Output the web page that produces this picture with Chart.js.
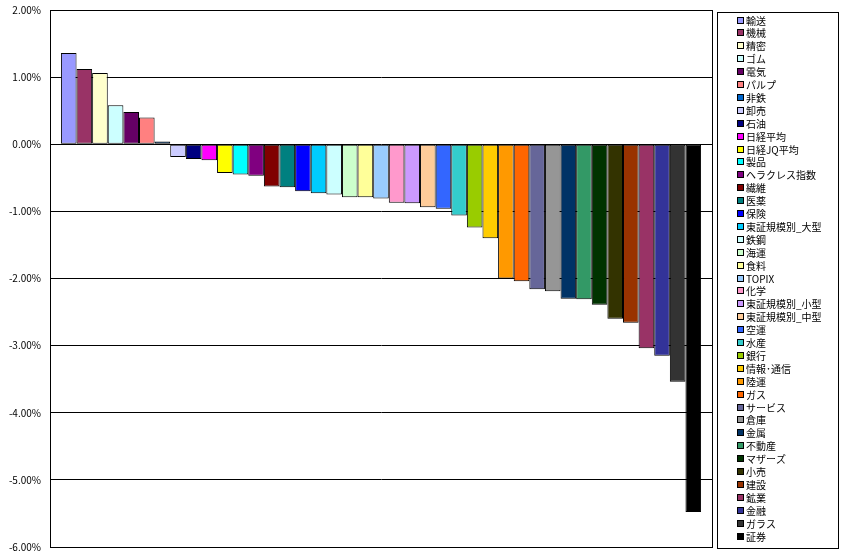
<!DOCTYPE html>
<html>
<head>
<meta charset="utf-8">
<script src="https://cdn.jsdelivr.net/npm/chart.js@4/dist/chart.umd.min.js"></script>
<style>
  body { margin: 0; background: #fff; }
  #wrap { width: 850px; height: 556px; }
</style>
</head>
<body>
<div id="wrap"><canvas id="sectorChart" width="850" height="556"></canvas></div>
<script>
// 業種別騰落率
const categories = [
    '輸送', '機械', '精密', 'ゴム', '電気', 'パルプ', '非鉄', '卸売', '石油', '日経平均',
    '日経JQ平均', '製品', 'ヘラクレス指数', '繊維', '医薬', '保険', '東証規模別_大型', '鉄鋼', '海運', '食料',
    'TOPIX', '化学', '東証規模別_小型', '東証規模別_中型', '空運', '水産', '銀行', '情報･通信', '陸運', 'ガス',
    'サービス', '倉庫', '金属', '不動産', 'マザーズ', '小売', '建設', '鉱業', '金融', 'ガラス',
    '証券'
];
const values = [
    1.36, 1.12, 1.06, 0.58, 0.48, 0.40, 0.04, -0.19, -0.22, -0.24,
    -0.43, -0.45, -0.47, -0.63, -0.64, -0.70, -0.73, -0.75, -0.79, -0.79,
    -0.81, -0.87, -0.88, -0.94, -0.96, -1.06, -1.24, -1.40, -2.00, -2.04,
    -2.16, -2.19, -2.30, -2.31, -2.39, -2.60, -2.66, -3.04, -3.15, -3.54,
    -5.48
];
const colors = [
    '#9999FF', '#993366', '#FFFFCC', '#CCFFFF', '#660066', '#FF8080', '#0066CC', '#CCCCFF', '#000080', '#FF00FF',
    '#FFFF00', '#00FFFF', '#800080', '#800000', '#008080', '#0000FF', '#00CCFF', '#CCFFFF', '#CCFFCC', '#FFFF99',
    '#99CCFF', '#FF99CC', '#CC99FF', '#FFCC99', '#3366FF', '#33CCCC', '#99CC00', '#FFCC00', '#FF9900', '#FF6600',
    '#666699', '#969696', '#003366', '#339966', '#003300', '#333300', '#993300', '#993366', '#333399', '#333333',
    '#000000'
];
const yMin = -6;
const yMax = 2;
const yStep = 1;

const jpFont = '"Noto Sans CJK JP", "MS PGothic", sans-serif';

// 枠線と凡例を描くプラグイン
const frameLegend = {
    id: 'frameLegend',
    afterDraw(chart) {
        const ctx = chart.ctx;
        const a = chart.chartArea;
        ctx.save();
        ctx.strokeStyle = '#000';
        ctx.lineWidth = 1;
        ctx.strokeRect(Math.round(a.left) + 0.5, Math.round(a.top) + 0.5,
            Math.round(a.right - a.left), Math.round(a.bottom - a.top));

        // 凡例
        const boxX = 717, boxY = 12, boxW = 121, boxH = 536;
        ctx.strokeRect(boxX + 0.5, boxY + 0.5, boxW, boxH);
        ctx.font = '10px ' + jpFont;
        ctx.textBaseline = 'middle';
        const step = 12.9;
        chart.data.datasets.forEach((ds, i) => {
            const y = Math.round(boxY + 8.5 + i * step);
            ctx.fillStyle = ds.backgroundColor;
            ctx.fillRect(737, y - 3, 6, 6);
            ctx.strokeStyle = '#000';
            ctx.strokeRect(737.5, y - 3.5, 6, 6);
            ctx.fillStyle = '#000';
            ctx.fillText(ds.label, 746, y + 0.5);
        });
        ctx.restore();
    }
};

const datasets = categories.map((name, i) => ({
    label: name,
    data: [values[i]],
    backgroundColor: colors[i],
    borderColor: '#000',
    borderWidth: 1,
    borderSkipped: false
}));

new Chart(document.getElementById('sectorChart'), {
    type: 'bar',
    data: {
        labels: [''],
        datasets: datasets
    },
    options: {
        responsive: false,
        animation: false,
        categoryPercentage: 0.967,
        barPercentage: 1.0,
        layout: {
            padding: { top: 10, right: 138, bottom: 9, left: 0 }
        },
        plugins: {
            legend: { display: false },
            tooltip: { enabled: false }
        },
        scales: {
            x: {
                display: false
            },
            y: {
                min: yMin,
                max: yMax,
                afterFit(scale) {
                    scale.width = 50;
                    scale.paddingTop = 0;
                    scale.paddingBottom = 0;
                },
                ticks: {
                    stepSize: yStep,
                    color: '#000',
                    padding: 9,
                    font: { family: jpFont, size: 10 },
                    callback: function(value) {
                        return value.toFixed(2) + '%';
                    }
                },
                grid: {
                    color: '#000',
                    lineWidth: 1,
                    drawTicks: false
                },
                border: {
                    color: '#000'
                }
            }
        }
    },
    plugins: [frameLegend]
});
</script>
</body>
</html>
